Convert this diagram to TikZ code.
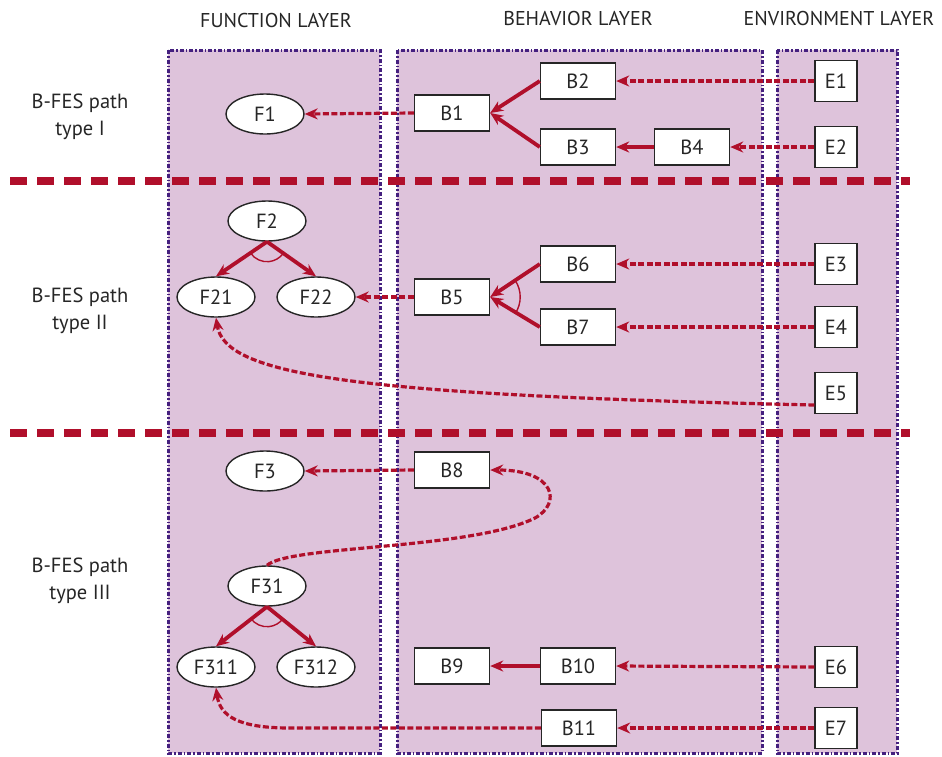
\documentclass[tikz,border=0pt]{standalone}
\usepackage{fontspec}
\setmainfont{PT Sans}
\usetikzlibrary{arrows.meta,shapes.geometric}
\definecolor{panelfill}{HTML}{DEC3DB}
\definecolor{panelline}{HTML}{45207F}
\definecolor{linkred}{HTML}{B00F2B}
\definecolor{inkgray}{HTML}{262626}

\tikzset{
  panel/.style={fill=panelfill, draw=panelline, line width=3pt,
    dash pattern=on 4pt off 2pt on 1.5pt off 2pt},
  sep/.style={draw=linkred, line width=8pt, dash pattern=on 17pt off 10pt},
  labelfont/.style={font=\fontsize{20.5}{22}\selectfont, text=inkgray},
  bnode/.style={draw=inkgray, fill=white, line width=1.4pt,
    minimum width=75pt, minimum height=36pt, inner sep=0pt, labelfont},
  enode/.style={bnode, minimum width=42pt, minimum height=41pt},
  fnode/.style={ellipse, draw=inkgray, fill=white, line width=1.4pt,
    minimum width=78pt, minimum height=40pt, inner sep=0pt, labelfont},
  solidlink/.style={draw=linkred, line width=3.8pt,
    -{Stealth[length=13pt,width=11pt]}},
  dashlink/.style={draw=linkred, line width=3.2pt, dash pattern=on 6pt off 2.5pt,
    -{Stealth[length=13pt,width=11pt]}},
  andarc/.style={draw=linkred, line width=1.4pt},
  header/.style={font=\fontsize{20}{22}\selectfont, text=inkgray},
  rowlabel/.style={align=center, font=\fontsize{20.5}{27}\selectfont, text=inkgray},
}

\begin{document}
\begin{tikzpicture}[x=1pt, y=-1pt]
\useasboundingbox (0,0) rectangle (942,756);
\fill[white] (0,0) rectangle (942,756);

% layer panels
\draw[panel] (168,50) rectangle (380,753);
\draw[panel] (397,50) rectangle (762,753);
\draw[panel] (777,50) rectangle (897,753);

% headers
\node[header] (hf) at (276,20) {FUNCTION LAYER};
\node[header] (hb) at (578,18) {BEHAVIOR LAYER};
\node[header] (he) at (839,18) {ENVIRONMENT LAYER};

% path type separators
\draw[sep] (10,181) -- (910,181);
\draw[sep] (10,433) -- (910,433);

% row labels
\node[rowlabel] (l1) at (80,117) {B-FES path\\type I};
\node[rowlabel] (l2) at (80,311) {B-FES path\\type II};
\node[rowlabel] (l3) at (80,581) {B-FES path\\type III};

% ---- type I ----
\node[fnode] (F1) at (265,114) {F1};
\node[bnode] (B1) at (452,113) {B1};
\node[bnode] (B2) at (578,81) {B2};
\node[bnode] (B3) at (578,147) {B3};
\node[bnode] (B4) at (692,147) {B4};
\node[enode] (E1) at (836,81) {E1};
\node[enode] (E2) at (836,147) {E2};

\draw[dashlink] (B1.west) -- (F1.east);
\draw[solidlink] (B2.west) -- (B1.east);
\draw[solidlink] (B3.west) -- (B1.east);
\draw[solidlink] (B4.west) -- (B3.east);
\draw[dashlink] (E1.west) -- (B2.east);
\draw[dashlink] (E2.west) -- (B4.east);

% ---- type II ----
\node[fnode] (F2) at (267,221) {F2};
\node[fnode] (F21) at (216,297) {F21};
\node[fnode] (F22) at (316,297) {F22};
\node[bnode] (B5) at (452,297) {B5};
\node[bnode] (B6) at (578,264) {B6};
\node[bnode] (B7) at (578,327) {B7};
\node[enode] (E3) at (836,264) {E3};
\node[enode] (E4) at (836,327) {E4};
\node[enode] (E5) at (836,393) {E5};

\draw[solidlink] (F2.south) -- (F21.north);
\draw[solidlink] (F2.south) -- (F22.north);
\draw[andarc] ([shift={(-144:20pt)}]F2.south) arc[start angle=-144, end angle=-36, radius=20pt];
\draw[dashlink] (B5.west) -- (F22.east);
\draw[solidlink] (B6.west) -- (B5.east);
\draw[solidlink] (B7.west) -- (B5.east);
\draw[andarc] ([shift={(-33:30pt)}]B5.east) arc[start angle=-33, end angle=33, radius=30pt];
\draw[dashlink] (E3.west) -- (B6.east);
\draw[dashlink] (E4.west) -- (B7.east);
\draw[dashlink] ([yshift=-12pt]E5.west) .. controls (350,395) and (225,375) .. (F21.south);

% ---- type III ----
\node[fnode] (F3) at (265,471) {F3};
\node[bnode] (B8) at (452,470) {B8};
\node[fnode] (F31) at (267,586) {F31};
\node[fnode] (F311) at (216,667) {F311};
\node[fnode] (F312) at (316,667) {F312};
\node[bnode] (B9) at (452,666) {B9};
\node[bnode] (B10) at (578,666) {B10};
\node[bnode] (B11) at (579,728) {B11};
\node[enode] (E6) at (836,667) {E6};
\node[enode] (E7) at (836,728) {E7};

\draw[dashlink] (B8.west) -- (F3.east);
\draw[dashlink] (F31.north) .. controls (290,545) and (470,550) .. (535,518)
  .. controls (562,503) and (555,470) .. (B8.east);
\draw[solidlink] (F31.south) -- (F311.north);
\draw[solidlink] (F31.south) -- (F312.north);
\draw[andarc] ([shift={(-144:20pt)}]F31.south) arc[start angle=-144, end angle=-36, radius=20pt];
\draw[solidlink] (B10.west) -- (B9.east);
\draw[dashlink] (E6.west) -- (B10.east);
\draw[dashlink] (E7.west) -- (B11.east);
\draw[dashlink] (B11.west) -- (290,728) .. controls (238,728) and (220,716) .. (F311.south);
\end{tikzpicture}
\end{document}
